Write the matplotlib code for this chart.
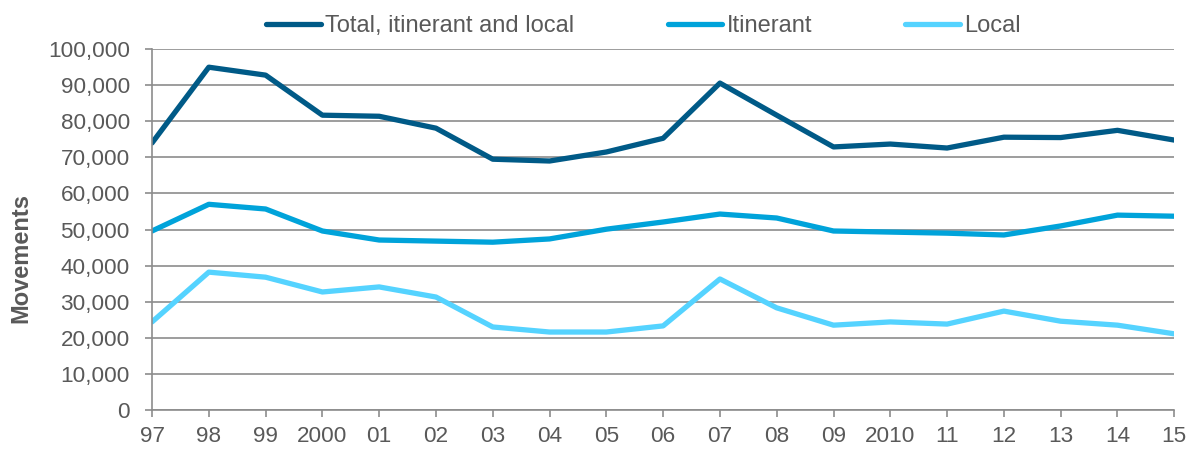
import matplotlib.pyplot as plt
from matplotlib.ticker import FuncFormatter

plt.rcParams['font.family'] = ['Liberation Sans', 'DejaVu Sans']

anios = ['97', '98', '99', '2000', '01', '02', '03', '04', '05', '06',
         '07', '08', '09', '2010', '11', '12', '13', '14', '15']
total = [74000, 95000, 92800, 81700, 81400, 78100, 69500, 69000, 71500, 75300,
         90600, 81700, 72900, 73700, 72600, 75600, 75500, 77500, 74800]
itinerante = [49600, 57000, 55700, 49600, 47100, 46800, 46500, 47400, 50100, 52100,
              54300, 53200, 49600, 49300, 49000, 48500, 51000, 54000, 53700]
local = [24400, 38200, 36800, 32700, 34100, 31300, 23000, 21600, 21600, 23300,
         36300, 28300, 23500, 24400, 23800, 27400, 24600, 23500, 21100]

gris = '#595959'
fig = plt.figure(figsize=(11.97, 4.51), dpi=100)
ax = fig.add_axes([0.127, 0.091, 0.854, 0.800])

x = list(range(len(anios)))
ax.plot(x, total, color='#005A87', lw=3.8, label='Total, itinerant and local', solid_capstyle='round')
ax.plot(x, itinerante, color='#00A3DA', lw=3.8, label='Itinerant', solid_capstyle='round')
ax.plot(x, local, color='#55D3FF', lw=3.8, label='Local', solid_capstyle='round')

ax.set_xlim(0, len(anios) - 1)
ax.set_ylim(0, 100000)
ax.set_yticks(range(0, 100001, 10000))
ax.yaxis.set_major_formatter(FuncFormatter(lambda v, p: f'{int(v):,}'))
ax.set_xticks(x)
ax.set_xticklabels(anios)
ax.grid(axis='y', color='#8c8c8c', lw=1.2)
ax.set_axisbelow(True)
for s in ['top', 'right']:
    ax.spines[s].set_visible(False)
for s in ['left', 'bottom']:
    ax.spines[s].set_color('#8c8c8c')
    ax.spines[s].set_linewidth(1.2)
ax.tick_params(colors='#8c8c8c', labelcolor=gris, labelsize=16.2, length=5, width=1.2)
ax.tick_params(axis='y', pad=11)
ax.tick_params(axis='x', pad=6.5)
ax.set_ylabel('Movements', fontsize=17, fontweight='bold', color=gris)
ax.yaxis.set_label_coords(-0.117, 0.42)

ax.legend(loc='lower center', bbox_to_anchor=(0.481, 1.0), ncol=3, frameon=False,
          fontsize=17, handlelength=2.3, handletextpad=0.2, columnspacing=3.95,
          labelcolor=gris, borderaxespad=0.1)

fig.savefig('out.png', dpi=100)
